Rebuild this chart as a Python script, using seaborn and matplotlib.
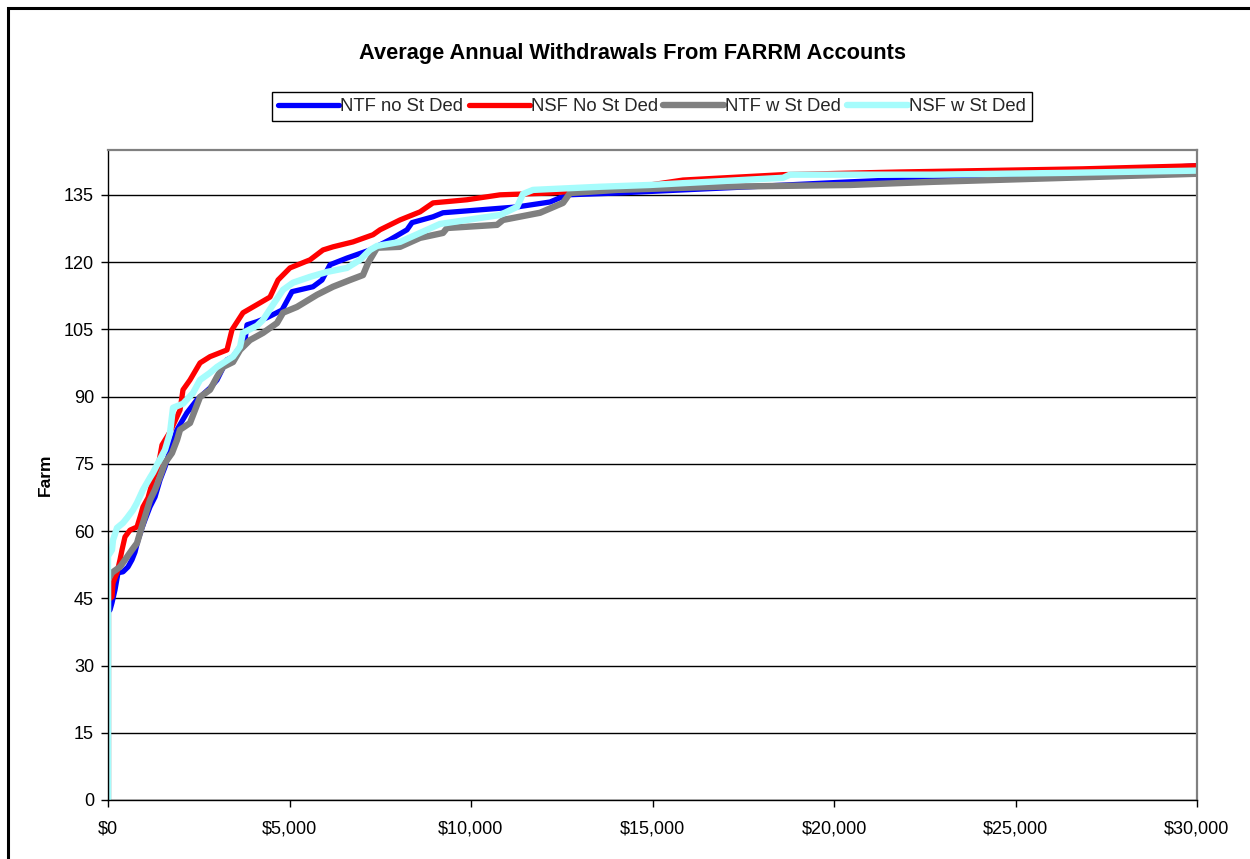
import matplotlib
matplotlib.use("Agg")
import matplotlib.pyplot as plt
import seaborn as sns
import pandas as pd
from matplotlib.patches import Rectangle
from matplotlib.ticker import FuncFormatter

# ---------------- data (withdrawal $, farm rank) ----------------
ntf_no_x = [0, 0, 55, 110, 193, 276, 413, 551, 661, 744, 827, 937, 1019, 1157, 1295, 1433, 1570,
            1708, 1901, 2176, 2452, 2810, 3003, 3278, 3444, 3774, 3829, 4105, 4380, 4794, 5069,
            5648, 5896, 6116, 6584, 7218, 7769, 8237, 8375, 8954, 9229, 10166, 11268, 12177,
            12645, 14023, 15841, 17687, 20442, 23665, 26420, 28239, 30002]
ntf_no_y = [0, 42, 42.4, 44, 46.9, 50.7, 50.9, 52, 53.6, 55.3, 58, 60.7, 62.5, 65.4, 67.6, 71.4, 74.3,
            78.1, 82.6, 86.4, 89.3, 91.9, 93.7, 98.2, 98.9, 102.6, 106, 106.7, 107.6, 109.3, 113.4,
            114.5, 116, 119.4, 120.9, 122.7, 125, 127.2, 128.8, 130.1, 131, 131.6, 132.3, 133.4,
            135, 135.4, 136.1, 136.8, 137.9, 139, 139.5, 140.6, 141.5]

nsf_no_x = [0, 0, 110, 138, 248, 331, 386, 468, 606, 799, 882, 964, 1102, 1240, 1378, 1488, 1708,
            1984, 2066, 2259, 2535, 2810, 3278, 3416, 3719, 4188, 4463, 4684, 5014, 5565, 5923,
            6199, 6750, 7301, 7494, 8045, 8596, 8954, 9890, 10800, 12177, 14932, 15841, 18596,
            21820, 26861, 30002]
nsf_no_y = [0, 44.6, 45.3, 48.4, 50.7, 53.6, 55.8, 58.7, 60.2, 60.9, 63.1, 65.4, 67.4, 71.4, 74.3,
            79.2, 82.1, 87, 91.5, 93.7, 97.5, 98.9, 100.4, 104.9, 108.7, 110.9, 112.2, 116, 118.7,
            120.5, 122.7, 123.4, 124.5, 126.1, 127.2, 129.4, 131.2, 133.2, 133.9, 135, 135.4,
            137.2, 138.3, 139.5, 140.1, 140.8, 141.5]

ntf_w_x = [0, 0, 110, 331, 523, 661, 799, 882, 964, 1074, 1157, 1295, 1433, 1570, 1763, 1901, 1984,
           2259, 2535, 2810, 3003, 3168, 3444, 3637, 3912, 4270, 4656, 4821, 5207, 5758, 6199,
           6667, 7025, 7163, 7411, 8045, 8596, 9229, 9340, 10717, 10882, 11902, 12535, 12728,
           14023, 16778, 20442, 22729, 26420, 30002]
ntf_w_y = [0, 49.1, 50.7, 52, 54.2, 55.8, 57.3, 59.6, 61.8, 64.7, 66.9, 69.2, 72.1, 75.2, 77.4,
           80.3, 82.6, 84.1, 89.9, 91.5, 94.4, 96.6, 97.7, 100.4, 102.6, 104.2, 106.4, 108.7, 110,
           112.7, 114.5, 116, 117.1, 119.8, 123.2, 123.4, 125.4, 126.5, 127.6, 128.3, 129.4, 131,
           133.2, 135.4, 136.1, 136.8, 137.2, 137.9, 138.8, 139.7]

nsf_w_x = [0, 0, 110, 138, 248, 413, 523, 689, 799, 964, 1157, 1240, 1378, 1570, 1708, 1791, 2066,
           2342, 2535, 2810, 3003, 3444, 3637, 3719, 4105, 4270, 4546, 4821, 5097, 5565, 6033,
           6584, 6943, 7218, 7411, 8045, 8596, 9147, 9890, 10800, 11268, 11433, 11709, 13555,
           14932, 18596, 18789, 22729, 26420, 30002]
nsf_w_y = [0, 54.4, 55.8, 58, 60.7, 61.8, 62.9, 64.7, 66.3, 69.2, 71.9, 73, 75.2, 78.1, 81.9, 87.5,
           88.4, 90.8, 93.7, 95.3, 96.6, 98.9, 101.1, 104.2, 105.8, 107.1, 110.5, 113.8, 115.4,
           116.7, 117.8, 118.7, 120.5, 122.7, 123.6, 124.5, 126.5, 128.5, 129.4, 130.5, 132.3,
           135.2, 136.1, 136.8, 137.2, 138.8, 139.5, 139.5, 139.9, 140.4]

series_names = ["NTF no St Ded", "NSF No St Ded", "NTF w St Ded", "NSF w St Ded"]
y_ticks = [0, 15, 30, 45, 60, 75, 90, 105, 120, 135]
x_ticks = [0, 5000, 10000, 15000, 20000, 25000, 30000]

title_text = "Average Annual Withdrawals From FARRM Accounts"
y_label = "Farm"

# ---------------- styling ----------------
sns.set_theme(style="white")
plt.rcParams["font.family"] = ["Liberation Sans", "DejaVu Sans"]

colors = ["#0000FF", "#FF0000", "#808080", "#A6FCFC"]
widths = [3.8, 3.8, 4.6, 4.6]

fig = plt.figure(figsize=(12.5, 8.59), dpi=100)
ax = fig.add_axes([108 / 1250, 59 / 859, (1197 - 108) / 1250, (800 - 150) / 859])

all_x = [ntf_no_x, nsf_no_x, ntf_w_x, nsf_w_x]
all_y = [ntf_no_y, nsf_no_y, ntf_w_y, nsf_w_y]

for name, xs, ys, c, lw in zip(series_names, all_x, all_y, colors, widths):
    df = pd.DataFrame({"x": xs, "y": ys})
    sns.lineplot(data=df, x="x", y="y", ax=ax, color=c, linewidth=lw, sort=False,
                 estimator=None, label=name, legend=False, solid_joinstyle="round",
                 clip_on=True)

ax.set_xlim(0, 30000)
ax.set_ylim(0, 145)
ax.set_yticks(y_ticks)
ax.set_xticks(x_ticks)
ax.xaxis.set_major_formatter(FuncFormatter(lambda v, p: f"${int(v):,}"))
ax.yaxis.grid(True, color="black", linewidth=1.0)
ax.xaxis.grid(False)
ax.set_axisbelow(True)

for s in ["top", "right"]:
    ax.spines[s].set_color("#808080")
    ax.spines[s].set_linewidth(1.6)
for s in ["left", "bottom"]:
    ax.spines[s].set_color("black")
    ax.spines[s].set_linewidth(1.0)

ax.tick_params(axis="both", which="major", direction="out", length=5, width=1,
               color="black", labelsize=13, labelcolor="black", bottom=True, left=True)
ax.tick_params(axis="x", pad=10)
ax.tick_params(axis="y", pad=5)

ax.set_xlabel("")
ax.set_ylabel(y_label, fontsize=12.5, fontweight="bold", labelpad=8, color="black")

fig.text(632 / 1250, 1 - 53 / 859, title_text, ha="center", va="center",
         fontsize=15.7, fontweight="bold", color="black")

handles, labels = ax.get_legend_handles_labels()
leg = fig.legend(handles, labels, loc="center", bbox_to_anchor=(652 / 1250, 1 - 106.5 / 859),
                 ncol=4, fontsize=13.3, frameon=True, fancybox=False, framealpha=1,
                 edgecolor="black", handlelength=3.3, handletextpad=0.05,
                 columnspacing=0.3, borderpad=0.35, borderaxespad=0)
leg.get_frame().set_linewidth(1.0)

# outer chart border (only left and top fall inside the image)
fig.patches.append(Rectangle((8 / 1250, -0.1), 1.2, 1.1 - 8 / 859,
                             transform=fig.transFigure, fill=False,
                             edgecolor="black", linewidth=2.2, clip_on=False))

fig.savefig("out.png", dpi=100, facecolor="white")
